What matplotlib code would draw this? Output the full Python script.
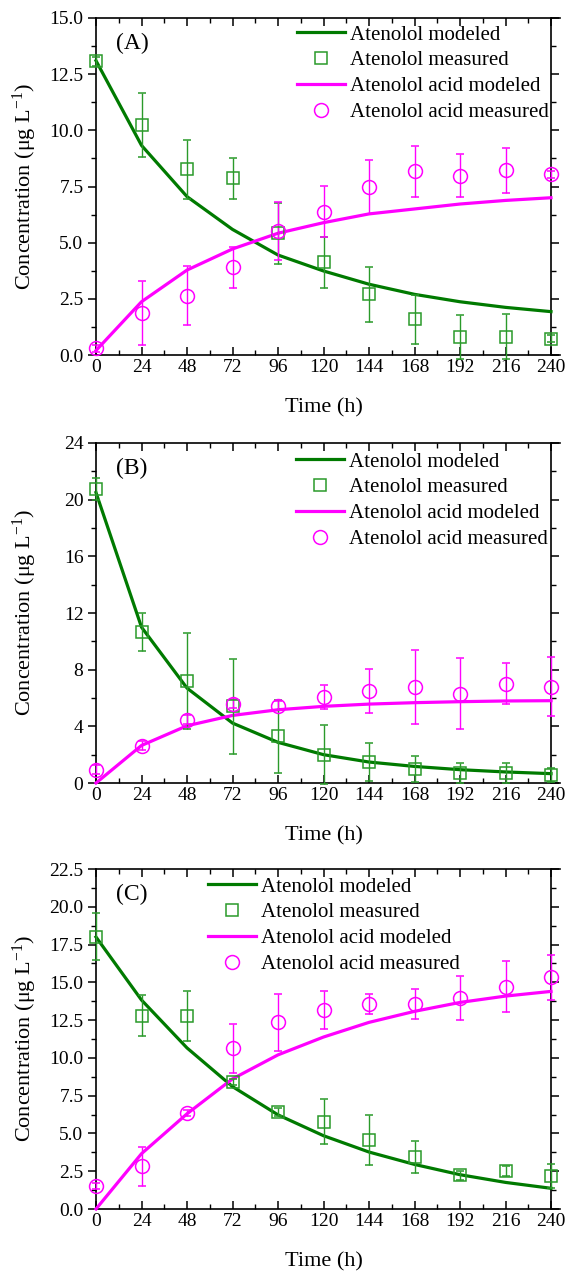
import matplotlib
matplotlib.use('Agg')
import matplotlib.pyplot as plt
from matplotlib.ticker import MultipleLocator, FormatStrFormatter
from matplotlib.lines import Line2D

plt.rcParams['font.family'] = ['Liberation Serif', 'DejaVu Serif']
plt.rcParams['mathtext.fontset'] = 'custom'
plt.rcParams['mathtext.rm'] = 'Liberation Serif'
plt.rcParams['mathtext.it'] = 'Liberation Serif:italic'

time_h = [0, 24, 48, 72, 96, 120, 144, 168, 192, 216, 240]

# Panel A
A_aten_model = [13.1, 9.33, 7.05, 5.59, 4.45, 3.74, 3.15, 2.70, 2.37, 2.12, 1.93]
A_aten_meas = [13.08, 10.24, 8.26, 7.86, 5.41, 4.13, 2.70, 1.59, 0.79, 0.82, 0.73]
A_aten_err = [0.2, 1.42, 1.3, 0.9, 1.35, 1.13, 1.23, 1.1, 0.97, 1.0, 0.15]
A_acid_model = [0.2, 2.37, 3.78, 4.72, 5.42, 5.89, 6.28, 6.50, 6.72, 6.88, 7.0]
A_acid_meas = [0.3, 1.88, 2.64, 3.90, 5.53, 6.38, 7.48, 8.17, 7.98, 8.22, 8.04]
A_acid_err = [0.15, 1.43, 1.32, 0.9, 1.3, 1.13, 1.2, 1.13, 0.96, 1.0, 0.15]

# Panel B
B_aten_model = [20.5, 11.0, 6.7, 4.23, 2.87, 2.0, 1.48, 1.17, 0.94, 0.78, 0.66]
B_aten_meas = [20.75, 10.66, 7.2, 5.41, 3.29, 2.0, 1.48, 0.99, 0.7, 0.68, 0.59]
B_aten_err = [0.8, 1.37, 3.4, 3.35, 2.6, 2.1, 1.37, 0.95, 0.7, 0.7, 0.5]
B_acid_model = [0.0, 2.65, 4.04, 4.77, 5.17, 5.41, 5.57, 5.67, 5.74, 5.79, 5.81]
B_acid_meas = [0.94, 2.63, 4.47, 5.6, 5.46, 6.07, 6.51, 6.78, 6.3, 7.0, 6.8]
B_acid_err = [0.3, 0.3, 0.3, 0.3, 0.3, 0.82, 1.55, 2.6, 2.5, 1.45, 2.1]

# Panel C
C_aten_model = [18.0, 13.83, 10.66, 8.1, 6.23, 4.85, 3.77, 2.95, 2.27, 1.76, 1.37]
C_aten_meas = [18.03, 12.79, 12.75, 8.41, 6.41, 5.79, 4.58, 3.44, 2.23, 2.51, 2.16]
C_aten_err = [1.55, 1.36, 1.65, 0.2, 0.25, 1.5, 1.66, 1.06, 0.3, 0.33, 0.8]
C_acid_model = [0.0, 3.66, 6.3, 8.61, 10.2, 11.38, 12.35, 13.08, 13.67, 14.09, 14.4]
C_acid_meas = [1.52, 2.82, 6.37, 10.63, 12.35, 13.15, 13.57, 13.57, 13.96, 14.71, 15.32]
C_acid_err = [0.2, 1.27, 0.2, 1.6, 1.9, 1.27, 0.66, 1.0, 1.48, 1.68, 1.5]

labels = ['Atenolol modeled', 'Atenolol measured', 'Atenolol acid modeled', 'Atenolol acid measured']

GREEN_LINE = '#007a00'
GREEN_MK = '#2a9a2a'
MAGENTA = '#ff00ff'

W, H = 566, 1276
fig = plt.figure(figsize=(W / 100, H / 100), dpi=100)

panels = [
    dict(tag='(A)', top=18, bottom=355, ylim=(0, 15), major=2.5, minor=1.25, fmt='%.1f',
         data=(A_aten_model, A_aten_meas, A_aten_err, A_acid_model, A_acid_meas, A_acid_err),
         leg=(297, 25), xlab=408),
    dict(tag='(B)', top=443, bottom=783, ylim=(0, 24), major=4, minor=2, fmt='%d',
         data=(B_aten_model, B_aten_meas, B_aten_err, B_acid_model, B_acid_meas, B_acid_err),
         leg=(296, 452), xlab=836),
    dict(tag='(C)', top=869, bottom=1209, ylim=(0, 22.5), major=2.5, minor=1.25, fmt='%.1f',
         data=(C_aten_model, C_aten_meas, C_aten_err, C_acid_model, C_acid_meas, C_acid_err),
         leg=(208, 877), xlab=1262),
]

left_px, x0_px, x240_px, right_px = 96, 96, 551, 560
xmax = 240 * (right_px - x0_px) / (x240_px - x0_px)

for p in panels:
    ax = fig.add_axes([left_px / W, 1 - p['bottom'] / H, (right_px - left_px) / W,
                       (p['bottom'] - p['top']) / H])
    am, ameas, aerr, cm, cmeas, cerr = p['data']
    ax.plot(time_h, am, color=GREEN_LINE, lw=2.3, zorder=3, clip_on=False)
    ax.plot(time_h, cm, color=MAGENTA, lw=2.3, zorder=3, clip_on=False)
    eb1 = ax.errorbar(time_h, ameas, yerr=aerr, fmt='s', ms=9, mfc='none', mec=GREEN_MK,
                      mew=1.1, ecolor=GREEN_MK, elinewidth=1.0, capsize=3, capthick=1.0,
                      zorder=4)
    eb2 = ax.errorbar(time_h, cmeas, yerr=cerr, fmt='o', ms=10, mfc='none', mec=MAGENTA,
                      mew=1.1, ecolor=MAGENTA, elinewidth=1.0, capsize=3, capthick=1.0,
                      zorder=4)
    for eb in (eb1, eb2):
        for art in [eb[0]] + list(eb[1]) + list(eb[2]):
            art.set_clip_on(False)

    ax.set_xlim(0, xmax)
    ax.set_ylim(*p['ylim'])
    ax.set_xticks(time_h)
    ax.xaxis.set_minor_locator(MultipleLocator(12))
    ax.yaxis.set_major_locator(MultipleLocator(p['major']))
    ax.yaxis.set_minor_locator(MultipleLocator(p['minor']))
    ax.yaxis.set_major_formatter(FormatStrFormatter(p['fmt']))
    ax.spines['right'].set_position(('data', 240))
    for s in ax.spines.values():
        s.set_linewidth(1.2)
    ax.tick_params(axis='both', which='major', direction='out', length=6, width=1.1,
                   labelsize=14, pad=3)
    ax.tick_params(axis='both', which='minor', direction='out', length=3.5, width=1.0)
    ax.tick_params(axis='x', which='both', top=True, labeltop=False)
    ax.tick_params(axis='x', which='both', top=True, direction='in')
    ax.tick_params(axis='x', which='both', bottom=True)
    ax.tick_params(axis='y', which='both', right=True, labelright=False)

    fig.text(25 / W, 1 - (p['top'] + p['bottom']) / 2 / H, 'Concentration (μg L$^{-1}$)',
             rotation=90, fontsize=16, ha='center', va='center')
    fig.text((x0_px + x240_px) / 2 / W, 1 - p['xlab'] / H, 'Time (h)', fontsize=16,
             ha='center', va='center')
    fig.text(132 / W, 1 - (p['top'] + 25) / H, p['tag'], fontsize=17, ha='center',
             va='center')

    handles = [
        Line2D([], [], color=GREEN_LINE, lw=2.3),
        Line2D([], [], ls='none', marker='s', ms=9, mfc='none', mec=GREEN_MK, mew=1.1),
        Line2D([], [], color=MAGENTA, lw=2.3),
        Line2D([], [], ls='none', marker='o', ms=10, mfc='none', mec=MAGENTA, mew=1.1),
    ]
    lx, ly = p['leg']
    ax.legend(handles, labels, loc='upper left', bbox_to_anchor=(lx / W, 1 - ly / H),
              bbox_transform=fig.transFigure, frameon=False, fontsize=15, borderpad=0,
              borderaxespad=0, handlelength=2.3, handletextpad=0.25, labelspacing=0.3)

fig.savefig('out.png', dpi=100)
